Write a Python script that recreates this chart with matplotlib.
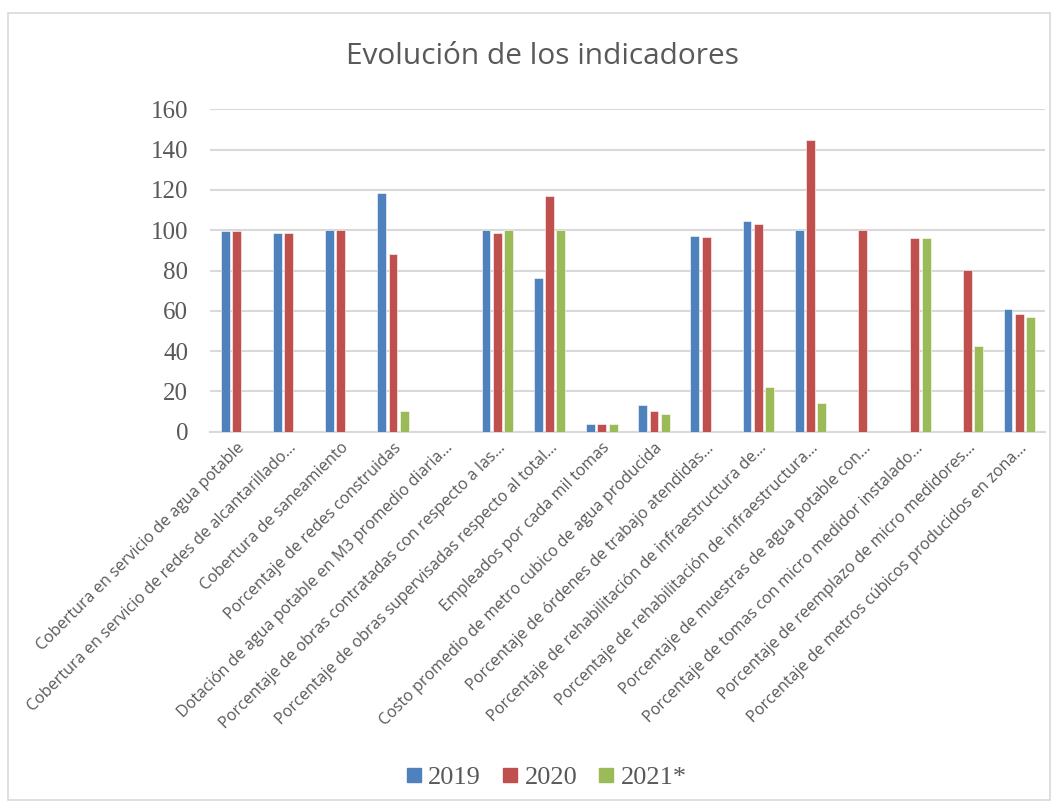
import matplotlib.pyplot as plt
from matplotlib.lines import Line2D
import numpy as np

# ============================================================
# Data
# ============================================================

categories = [
    "Cobertura en servicio de agua potable",
    "Cobertura en servicio de redes de alcantarillado…",
    "Cobertura de saneamiento",
    "Porcentaje de redes construidas",
    "Dotación de agua potable en M3 promedio diaria…",
    "Porcentaje de obras contratadas con respecto a las…",
    "Porcentaje de obras supervisadas respecto al total…",
    "Empleados por cada mil tomas",
    "Costo promedio de metro cubico de agua producida",
    "Porcentaje de órdenes de trabajo atendidas…",
    "Porcentaje de rehabilitación de infraestructura de…",
    "Porcentaje de rehabilitación de infraestructura…",
    "Porcentaje de muestras de agua potable con…",
    "Porcentaje de tomas con micro medidor instalado…",
    "Porcentaje de reemplazo de micro medidores…",
    "Porcentaje de metros cúbicos producidos en zona…",
]

# nan = no bar in the reference
v2019 = [99.4, 98.5, 100, 118.3, np.nan, 100, 76.4, 3.6, 13.5, 97.2, 104.4, 100,
         np.nan, np.nan, np.nan, 60.8]
v2020 = [99.4, 98.5, 100, 88.1, np.nan, 98.8, 116.8, 3.6, 10.5, 96.5, 103, 145,
         100, 96, 80.4, 58.3]
v2021 = [np.nan, np.nan, np.nan, 10.5, np.nan, 100, 100, 3.6, 9, np.nan, 22.2, 14.5,
         np.nan, 96, 42.5, 56.8]

series = [("2019", v2019, "#4F81BD"), ("2020", v2020, "#C0504D"), ("2021*", v2021, "#9BBB59")]

# ============================================================
# Figure
# ============================================================

fig = plt.figure(figsize=(10.57, 8.10), dpi=100)
ax = fig.add_axes([0.199, 0.467, 0.790, 0.398])

# light outer border like the Excel chart area
fig.patches.append(plt.Rectangle((0.0076, 0.0123), 0.986, 0.9716, transform=fig.transFigure,
                                 fill=False, edgecolor="#d9d9d9", linewidth=1.2))

x = np.arange(len(categories))
width = 0.17
offset = 0.217
for i, (name, vals, color) in enumerate(series):
    ax.bar(x + (i - 1) * offset, vals, width, color=color, label=name,
           edgecolor="white", linewidth=0.4, zorder=3)

ax.set_xlim(-0.5, len(categories) - 0.5)
ax.set_ylim(0, 160)
ax.set_yticks(range(0, 161, 20))
ax.grid(True, axis="y", color="#d9d9d9", linewidth=1.5, zorder=0)
for side in ["top", "right", "left"]:
    ax.spines[side].set_visible(False)
ax.spines["bottom"].set_color("#d9d9d9")
ax.spines["bottom"].set_linewidth(1.5)

ax.tick_params(axis="y", length=0, labelsize=18, labelcolor="#595959", pad=16)
for lab in ax.get_yticklabels():
    lab.set_family("Liberation Serif")
ax.tick_params(axis="x", length=0, pad=6)
ax.set_xticks(x)
ax.set_xticklabels(categories, rotation=45, ha="right", rotation_mode="anchor",
                   fontsize=11.6, color="#595959", family="Open Sans")

fig.text(0.513, 0.93, "Evolución de los indicadores", ha="center", va="center",
         fontsize=21.5, color="#595959", family="Open Sans")

# square legend markers, like Excel
handles = [Line2D([], [], linestyle="", marker="s", markersize=10, color=c) for _, _, c in series]
leg = fig.legend(handles, [s[0] for s in series], loc="center", bbox_to_anchor=(0.517, 0.04),
                 ncol=3, frameon=False, handlelength=0.6, handletextpad=0.25,
                 columnspacing=0.8, prop={"family": "Liberation Serif", "size": 19})
for t in leg.get_texts():
    t.set_color("#595959")

fig.savefig("out.png", dpi=100)
